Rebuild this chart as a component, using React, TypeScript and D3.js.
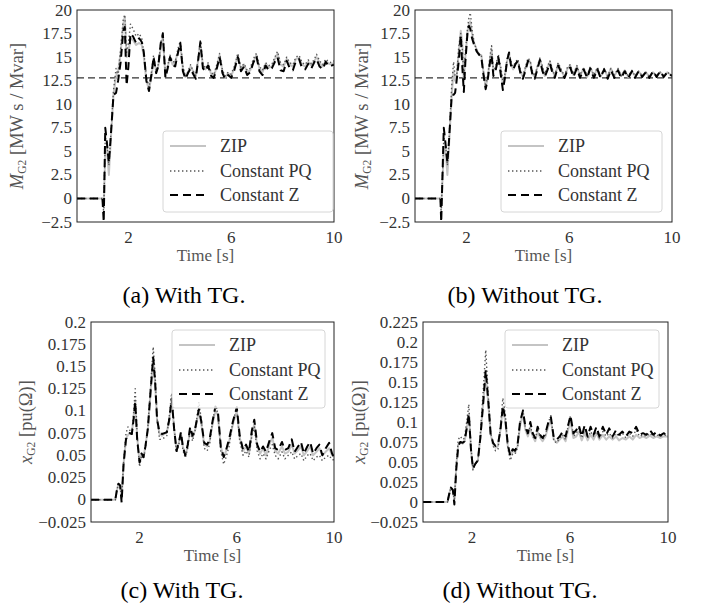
import * as d3 from "d3";

// ---- data ----
const xTicks = [2, 6, 10];

const mTicks = [-2.5, 0, 2.5, 5, 7.5, 10, 12.5, 15, 17.5, 20];
const mTickLabels = ["−2.5", "0", "2.5", "5", "7.5", "10", "12.5", "15", "17.5", "20"];
const cTicks = [-0.025, 0, 0.025, 0.05, 0.075, 0.1, 0.125, 0.15, 0.175, 0.2];
const cTickLabels = ["−0.025", "0", "0.025", "0.05", "0.075", "0.1", "0.125", "0.15", "0.175", "0.2"];
const dTicks = [-0.025, 0, 0.025, 0.05, 0.075, 0.1, 0.125, 0.15, 0.175, 0.2, 0.225];
const dTickLabels = ["−0.025", "0", "0.025", "0.05", "0.075", "0.1", "0.125", "0.15", "0.175", "0.2", "0.225"];

const mRef = 12.8; // steady-state inertia (dashed reference)

// (a) M_G2, with TG
const tA = [0, 0.99, 1.04, 1.1, 1.16, 1.24, 1.3, 1.42, 1.52, 1.6, 1.7, 1.8, 1.86, 1.93, 2.0, 2.08, 2.18, 2.3, 2.42, 2.52, 2.6, 2.7, 2.8, 2.9, 2.98, 3.08, 3.16, 3.26, 3.34, 3.44, 3.52, 3.62, 3.72, 3.82, 3.94, 4.02, 4.12, 4.22, 4.32, 4.42, 4.52, 4.62, 4.72, 4.8, 4.9, 5.0, 5.1, 5.22, 5.32, 5.44, 5.55, 5.66, 5.76, 5.88, 6.0, 6.12, 6.26, 6.38, 6.5, 6.62, 6.74, 6.86, 6.98, 7.1, 7.22, 7.34, 7.46, 7.58, 7.7, 7.8, 7.92, 8.04, 8.16, 8.28, 8.4, 8.52, 8.64, 8.76, 8.88, 9.0, 9.12, 9.24, 9.32, 9.44, 9.56, 9.68, 9.8, 9.9, 10];
const zipA = [0, 0, -1, 5, 5.5, 2.5, 5.5, 11, 13, 13.5, 15.5, 18.5, 19.3, 15, 15.5, 17, 16.8, 16.3, 16.5, 16.3, 15, 12.5, 11.5, 13, 14.8, 13.5, 14, 16, 17.2, 13, 13.8, 15, 14.2, 14.5, 15.6, 16.3, 13.8, 12.9, 13.4, 14, 13.5, 12.9, 14.8, 16.5, 14, 13.7, 14.2, 13.2, 12.9, 14, 15.2, 13.5, 12.8, 13.3, 13, 13.8, 15.2, 13.7, 14.2, 13.4, 13.6, 14.5, 15.2, 13.8, 13.4, 14.3, 13.9, 14, 14.8, 15.4, 14.2, 14, 14.8, 14.2, 14, 14.8, 14.9, 14.2, 14, 14.5, 14.1, 14.6, 15, 14.4, 14, 14.6, 14.3, 14.2, 14.4];
const pqA = [0, 0, -1.5, 6.5, 6, 3.5, 6, 11.5, 13.8, 13, 16, 19, 19.5, 15.5, 16.5, 18.5, 18, 17.2, 17.5, 17, 15.5, 13, 11.8, 13.5, 15.2, 13.5, 14.2, 16.5, 17.6, 13.3, 14, 15.2, 14.5, 14.5, 16, 16.7, 14, 12.9, 13.5, 14.2, 13.5, 13, 15, 16.8, 14.2, 13.8, 14.4, 13.4, 13.1, 14.2, 15.4, 13.6, 13, 13.4, 13.2, 14, 15.4, 13.9, 14.3, 13.6, 13.8, 14.8, 15.4, 14, 13.6, 14.4, 14.1, 14.2, 15, 15.6, 14.4, 14.2, 15, 14.4, 14.2, 15, 15.2, 14.4, 14.2, 14.7, 14.3, 14.8, 15.3, 14.6, 14.2, 14.8, 14.5, 14.4, 14.6];
const zA = [0, 0, -2.5, 7.5, 6, 3.8, 6, 11, 11.2, 12.5, 14.5, 17.8, 18.2, 12, 14, 17.5, 17.2, 16.5, 17, 16.6, 15.5, 12.5, 11.4, 13.2, 15, 13.3, 14, 16.5, 17.5, 12.8, 13.7, 15, 14.2, 14, 15.6, 16.5, 13.5, 12.7, 13.3, 13.8, 13.2, 12.7, 14.8, 16.6, 13.8, 13.5, 14.1, 13, 12.8, 13.8, 15, 13.3, 12.7, 13.1, 12.8, 13.6, 15, 13.5, 14, 13.1, 13.4, 14.4, 15.1, 13.5, 13.1, 14.1, 13.6, 13.8, 14.5, 15, 13.6, 13.5, 14.6, 13.8, 13.6, 14.6, 14.8, 13.8, 13.7, 14.3, 13.8, 14.5, 14.8, 14, 13.7, 14.5, 14, 14.1, 14.2];

// (b) M_G2, without TG
const tB = [0, 0.99, 1.02, 1.12, 1.18, 1.26, 1.32, 1.43, 1.5, 1.56, 1.62, 1.7, 1.78, 1.84, 1.9, 1.96, 2.04, 2.1, 2.15, 2.22, 2.3, 2.4, 2.48, 2.58, 2.66, 2.75, 2.84, 2.92, 2.98, 3.05, 3.14, 3.24, 3.32, 3.42, 3.5, 3.58, 3.66, 3.74, 3.82, 3.92, 4.0, 4.1, 4.2, 4.3, 4.4, 4.48, 4.58, 4.66, 4.76, 4.86, 4.96, 5.05, 5.15, 5.25, 5.35, 5.44, 5.57, 5.7, 5.82, 5.94, 6.04, 6.16, 6.3, 6.42, 6.56, 6.7, 6.82, 6.96, 7.1, 7.22, 7.36, 7.5, 7.62, 7.76, 7.9, 8.02, 8.16, 8.3, 8.44, 8.56, 8.7, 8.84, 8.98, 9.12, 9.26, 9.4, 9.54, 9.68, 9.82, 10];
const zipB = [0, 0, -1, 5, 5.5, 2.5, 5.5, 11, 13.5, 12.5, 13, 15.5, 17.8, 16.5, 12.5, 15, 17.5, 18.5, 18.8, 17.5, 16.5, 15.8, 15.3, 15.2, 13.5, 11.8, 13, 14.8, 15.8, 13.5, 13.8, 15, 14, 12, 13, 14.5, 15.3, 14.2, 13.7, 14.3, 14.6, 13.5, 12.9, 13.8, 14.7, 14.5, 13.2, 12.9, 13.9, 14.8, 13.8, 13, 13.8, 14.5, 13.6, 12.9, 14.3, 13.5, 12.9, 13.8, 14.1, 13.1, 14, 13, 13.8, 12.9, 13.9, 13, 13.8, 12.9, 13.7, 12.9, 13.8, 13, 13.7, 13, 13.6, 12.9, 13.5, 13, 13.5, 13, 13.4, 12.9, 13.4, 13, 13.4, 13, 13.4, 13];
const pqB = [0, 0, -1.5, 6.5, 6, 3.5, 6, 12, 14.5, 13, 12.8, 16, 17.5, 16, 13, 15.5, 18, 19.2, 19.7, 18, 16.5, 15.8, 15.4, 15.2, 13.5, 11.9, 13.2, 15.2, 16.2, 13.5, 14, 15.3, 14.2, 12.5, 13.2, 14.8, 15.5, 14.5, 14, 14.5, 14.8, 13.6, 13, 14, 14.9, 14.6, 13.4, 13, 14, 14.9, 14, 13.2, 14, 14.6, 13.7, 13, 14.4, 13.6, 13, 14, 14.2, 13.2, 14.1, 13.1, 13.9, 13, 14, 13.1, 13.9, 13, 13.8, 13, 13.8, 13.1, 13.8, 13, 13.6, 13, 13.6, 13, 13.5, 13, 13.4, 13, 13.4, 13, 13.4, 13, 13.4, 13];
const zB = [0, 0, -2.5, 7.5, 6, 3.8, 6, 11, 11, 11.2, 12.5, 14.5, 17.3, 14, 11.3, 14.5, 17.5, 18.3, 18, 17, 16.3, 15.6, 15.3, 15, 13.2, 11.6, 12.8, 14.5, 15.2, 13, 13.6, 15, 13.5, 11.5, 12.8, 14.6, 15.5, 14, 13.7, 14.3, 14.6, 13.3, 12.7, 13.6, 14.6, 14.3, 13, 12.7, 13.7, 14.7, 13.5, 12.9, 13.6, 14.3, 13.3, 12.8, 14.1, 13.3, 12.8, 13.7, 13.9, 12.9, 13.8, 12.8, 13.7, 12.8, 13.8, 12.8, 13.7, 12.8, 13.7, 12.7, 13.6, 12.8, 13.6, 12.8, 13.5, 12.8, 13.5, 12.8, 13.5, 12.9, 13.4, 12.8, 13.5, 12.9, 13.5, 12.9, 13.4, 13];

// (c) x_G2, with TG
const tC = [0, 1.0, 1.06, 1.13, 1.2, 1.26, 1.34, 1.44, 1.52, 1.6, 1.68, 1.76, 1.82, 1.9, 2.0, 2.08, 2.16, 2.24, 2.34, 2.46, 2.56, 2.64, 2.72, 2.82, 2.92, 3.02, 3.12, 3.22, 3.32, 3.42, 3.52, 3.62, 3.7, 3.78, 3.88, 3.98, 4.08, 4.18, 4.3, 4.44, 4.54, 4.66, 4.78, 4.88, 5.0, 5.12, 5.22, 5.34, 5.46, 5.56, 5.68, 5.84, 6.0, 6.12, 6.26, 6.38, 6.5, 6.62, 6.72, 6.84, 6.96, 7.08, 7.2, 7.34, 7.46, 7.58, 7.7, 7.86, 7.98, 8.12, 8.26, 8.38, 8.52, 8.64, 8.76, 8.9, 9.02, 9.14, 9.28, 9.4, 9.52, 9.66, 9.8, 9.92, 10];
const zipC = [0, 0, 0.01, 0.018, 0.015, 0.002, 0.04, 0.068, 0.073, 0.075, 0.074, 0.095, 0.112, 0.07, 0.042, 0.052, 0.048, 0.06, 0.08, 0.125, 0.16, 0.13, 0.09, 0.074, 0.072, 0.074, 0.076, 0.09, 0.112, 0.08, 0.055, 0.065, 0.075, 0.06, 0.05, 0.06, 0.08, 0.07, 0.08, 0.1, 0.085, 0.062, 0.06, 0.066, 0.085, 0.1, 0.095, 0.06, 0.048, 0.055, 0.065, 0.085, 0.1, 0.07, 0.055, 0.06, 0.052, 0.075, 0.085, 0.06, 0.052, 0.058, 0.05, 0.062, 0.07, 0.055, 0.052, 0.06, 0.052, 0.054, 0.062, 0.052, 0.056, 0.06, 0.05, 0.055, 0.06, 0.05, 0.054, 0.058, 0.05, 0.054, 0.058, 0.05, 0.05];
const pqC = [0, 0, 0.01, 0.018, 0.015, 0.001, 0.042, 0.075, 0.082, 0.078, 0.075, 0.1, 0.125, 0.072, 0.037, 0.05, 0.046, 0.058, 0.082, 0.13, 0.172, 0.14, 0.092, 0.068, 0.068, 0.07, 0.072, 0.094, 0.12, 0.082, 0.053, 0.063, 0.074, 0.056, 0.047, 0.058, 0.078, 0.066, 0.08, 0.11, 0.09, 0.058, 0.055, 0.062, 0.088, 0.104, 0.098, 0.055, 0.04, 0.048, 0.06, 0.088, 0.104, 0.066, 0.05, 0.055, 0.048, 0.072, 0.082, 0.055, 0.046, 0.052, 0.046, 0.056, 0.062, 0.05, 0.046, 0.054, 0.046, 0.05, 0.054, 0.046, 0.05, 0.052, 0.044, 0.05, 0.052, 0.044, 0.048, 0.05, 0.044, 0.048, 0.05, 0.045, 0.045];
const zC = [0, 0, 0.01, 0.018, 0.016, -0.003, 0.04, 0.068, 0.073, 0.075, 0.074, 0.092, 0.11, 0.068, 0.042, 0.052, 0.048, 0.06, 0.08, 0.125, 0.16, 0.132, 0.09, 0.076, 0.074, 0.075, 0.076, 0.09, 0.114, 0.08, 0.055, 0.065, 0.076, 0.06, 0.05, 0.062, 0.082, 0.072, 0.082, 0.102, 0.088, 0.064, 0.062, 0.068, 0.088, 0.105, 0.1, 0.06, 0.048, 0.056, 0.068, 0.088, 0.104, 0.072, 0.056, 0.062, 0.054, 0.078, 0.09, 0.062, 0.054, 0.06, 0.054, 0.066, 0.075, 0.058, 0.056, 0.065, 0.056, 0.058, 0.068, 0.054, 0.06, 0.065, 0.052, 0.06, 0.065, 0.052, 0.058, 0.062, 0.05, 0.058, 0.064, 0.052, 0.048];

// (d) x_G2, without TG
const tD = [0, 1.0, 1.07, 1.14, 1.22, 1.28, 1.36, 1.44, 1.52, 1.62, 1.7, 1.8, 1.87, 1.96, 2.04, 2.14, 2.24, 2.34, 2.46, 2.56, 2.66, 2.76, 2.86, 2.96, 3.06, 3.16, 3.26, 3.36, 3.46, 3.56, 3.66, 3.76, 3.86, 3.96, 4.08, 4.18, 4.28, 4.38, 4.48, 4.58, 4.68, 4.78, 4.88, 5.0, 5.12, 5.22, 5.34, 5.46, 5.58, 5.7, 5.82, 5.94, 6.02, 6.14, 6.26, 6.36, 6.48, 6.6, 6.72, 6.84, 6.96, 7.08, 7.2, 7.34, 7.48, 7.6, 7.74, 7.88, 8.0, 8.14, 8.28, 8.42, 8.56, 8.7, 8.84, 8.98, 9.12, 9.26, 9.4, 9.54, 9.68, 9.82, 10];
const zipD = [0, 0, 0.01, 0.018, 0.014, 0.002, 0.045, 0.072, 0.075, 0.073, 0.076, 0.095, 0.11, 0.065, 0.042, 0.048, 0.052, 0.08, 0.125, 0.16, 0.125, 0.085, 0.072, 0.068, 0.07, 0.09, 0.118, 0.1, 0.07, 0.058, 0.064, 0.062, 0.07, 0.095, 0.11, 0.09, 0.082, 0.092, 0.082, 0.076, 0.088, 0.08, 0.076, 0.082, 0.095, 0.102, 0.078, 0.074, 0.078, 0.082, 0.076, 0.092, 0.1, 0.08, 0.082, 0.088, 0.077, 0.086, 0.077, 0.084, 0.078, 0.086, 0.078, 0.084, 0.078, 0.082, 0.078, 0.082, 0.077, 0.08, 0.078, 0.082, 0.078, 0.084, 0.08, 0.082, 0.08, 0.083, 0.08, 0.082, 0.08, 0.082, 0.082];
const pqD = [0, 0, 0.01, 0.018, 0.015, 0.001, 0.048, 0.078, 0.082, 0.078, 0.08, 0.105, 0.122, 0.068, 0.04, 0.048, 0.05, 0.085, 0.14, 0.19, 0.135, 0.088, 0.07, 0.064, 0.066, 0.095, 0.13, 0.11, 0.068, 0.052, 0.06, 0.06, 0.068, 0.1, 0.115, 0.092, 0.084, 0.096, 0.082, 0.078, 0.092, 0.082, 0.078, 0.084, 0.1, 0.108, 0.076, 0.074, 0.08, 0.084, 0.078, 0.098, 0.108, 0.082, 0.086, 0.092, 0.08, 0.09, 0.08, 0.088, 0.082, 0.088, 0.08, 0.088, 0.082, 0.086, 0.08, 0.086, 0.082, 0.086, 0.08, 0.086, 0.082, 0.09, 0.082, 0.084, 0.082, 0.086, 0.082, 0.084, 0.082, 0.084, 0.083];
const zD = [0, 0, 0.01, 0.018, 0.015, -0.003, 0.042, 0.07, 0.075, 0.074, 0.076, 0.095, 0.11, 0.065, 0.042, 0.048, 0.052, 0.08, 0.125, 0.165, 0.128, 0.085, 0.074, 0.07, 0.072, 0.09, 0.12, 0.104, 0.072, 0.058, 0.066, 0.064, 0.072, 0.1, 0.114, 0.094, 0.086, 0.1, 0.086, 0.08, 0.094, 0.084, 0.08, 0.086, 0.1, 0.106, 0.08, 0.078, 0.082, 0.088, 0.082, 0.098, 0.108, 0.086, 0.09, 0.096, 0.082, 0.096, 0.082, 0.094, 0.084, 0.094, 0.082, 0.094, 0.084, 0.092, 0.082, 0.09, 0.084, 0.088, 0.082, 0.088, 0.086, 0.094, 0.084, 0.086, 0.084, 0.09, 0.084, 0.088, 0.083, 0.086, 0.083];

const legendNames = ["ZIP", "Constant PQ", "Constant Z"];

// ---- styles ----
const FONT = "Liberation Serif, DejaVu Serif, serif";
const seriesStyle = [
  { stroke: "#c4c4c4", width: 2, dash: undefined },
  { stroke: "#555", width: 1.4, dash: "1.4,2.6" },
  { stroke: "#000", width: 2, dash: "8,5" },
];

type PanelCfg = {
  id: string;
  left: number; right: number; top: number; bottom: number;
  yDomain: [number, number];
  yTicks: number[]; yTickLabels: string[];
  t: number[]; series: number[][];
  ref?: number;
  legend: { x: number; y: number; w: number; h: number };
  ySym: string; yUnit: string; yLabelX: number;
  caption: string; captionX: number; captionY: number;
};

const panels: PanelCfg[] = [
  {
    id: "a", left: 77, right: 334, top: 10, bottom: 222, yDomain: [-2.5, 20],
    yTicks: mTicks, yTickLabels: mTickLabels, t: tA, series: [zipA, pqA, zA], ref: mRef,
    legend: { x: 163, y: 131, w: 170, h: 81 }, ySym: "M", yUnit: " [MW s / Mvar]", yLabelX: 23,
    caption: "(a) With TG.", captionX: 184, captionY: 303,
  },
  {
    id: "b", left: 415, right: 672, top: 10, bottom: 222, yDomain: [-2.5, 20],
    yTicks: mTicks, yTickLabels: mTickLabels, t: tB, series: [zipB, pqB, zB], ref: mRef,
    legend: { x: 501, y: 131, w: 161, h: 81 }, ySym: "M", yUnit: " [MW s / Mvar]", yLabelX: 368,
    caption: "(b) Without TG.", captionX: 525, captionY: 303,
  },
  {
    id: "c", left: 91, right: 334, top: 322, bottom: 522, yDomain: [-0.025, 0.2],
    yTicks: cTicks, yTickLabels: cTickLabels, t: tC, series: [zipC, pqC, zC],
    legend: { x: 172, y: 330, w: 153, h: 78 }, ySym: "x", yUnit: " [pu(Ω)]", yLabelX: 32,
    caption: "(c) With TG.", captionX: 182, captionY: 598,
  },
  {
    id: "d", left: 423, right: 668, top: 322, bottom: 522, yDomain: [-0.025, 0.225],
    yTicks: dTicks, yTickLabels: dTickLabels, t: tD, series: [zipD, pqD, zD],
    legend: { x: 505, y: 330, w: 154, h: 78 }, ySym: "x", yUnit: " [pu(Ω)]", yLabelX: 365,
    caption: "(d) Without TG.", captionX: 520, captionY: 598,
  },
];

function Panel({ p }: { p: PanelCfg }) {
  const x = d3.scaleLinear().domain([0, 10]).range([p.left, p.right]);
  const y = d3.scaleLinear().domain(p.yDomain).range([p.bottom, p.top]);
  const line = d3
    .line<number>()
    .x((_, i) => x(p.t[i]))
    .y((d) => y(d));
  const midY = (p.top + p.bottom) / 2;
  const lg = p.legend;
  const rows = [15, 40, 64];
  const ff = { fontFamily: FONT };

  return (
    <g>
      <defs>
        <clipPath id={`clip-${p.id}`}>
          <rect x={p.left} y={p.top - 1} width={p.right - p.left} height={p.bottom - p.top + 2} />
        </clipPath>
      </defs>

      <g clipPath={`url(#clip-${p.id})`}>
        {p.ref !== undefined && (
          <line
            x1={p.left} x2={p.right} y1={y(p.ref)} y2={y(p.ref)}
            stroke="#333" strokeWidth={1.3} strokeDasharray="7,4"
          />
        )}
        {p.series.map((s, i) => (
          <path
            key={i}
            d={line(s) ?? ""}
            fill="none"
            stroke={seriesStyle[i].stroke}
            strokeWidth={seriesStyle[i].width}
            strokeDasharray={seriesStyle[i].dash}
            strokeLinejoin="round"
          />
        ))}
      </g>

      {/* spines */}
      <rect
        x={p.left} y={p.top} width={p.right - p.left} height={p.bottom - p.top}
        fill="none" stroke="#222" strokeWidth={1}
      />

      {/* y ticks */}
      {p.yTicks.map((v, i) => (
        <text
          key={v} style={ff}
          x={p.left - 5} y={y(v)} dy="0.33em" textAnchor="end"
          fontSize={17} fill="#333"
        >
          {p.yTickLabels[i]}
        </text>
      ))}

      {/* x ticks */}
      {xTicks.map((v) => (
        <text key={v} style={ff} x={x(v)} y={p.bottom + 21} textAnchor="middle" fontSize={17} fill="#333">
          {v}
        </text>
      ))}

      <text style={ff} x={(p.left + p.right) / 2} y={p.bottom + 39} textAnchor="middle" fontSize={17} fill="#555">
        Time [s]
      </text>

      <text
        style={ff}
        transform={`translate(${p.yLabelX},${midY}) rotate(-90)`}
        textAnchor="middle" fontSize={18.5} fill="#555"
      >
        <tspan fontStyle="italic">{p.ySym}</tspan>
        <tspan fontSize={11.5} dy={3}>G2</tspan>
        <tspan dy={-3}>{p.yUnit}</tspan>
      </text>

      {/* legend */}
      <rect
        x={lg.x} y={lg.y} width={lg.w} height={lg.h} rx={3}
        fill="#fff" fillOpacity={0.8} stroke="#d6d6d6" strokeWidth={1}
      />
      {legendNames.map((name, i) => (
        <g key={name}>
          <line
            x1={lg.x + 7} x2={lg.x + 43} y1={lg.y + rows[i]} y2={lg.y + rows[i]}
            stroke={seriesStyle[i].stroke} strokeWidth={seriesStyle[i].width}
            strokeDasharray={seriesStyle[i].dash}
          />
          <text style={ff} x={lg.x + 57} y={lg.y + rows[i]} dy="0.35em" fontSize={18} fill="#333">
            {name}
          </text>
        </g>
      ))}

      <text style={ff} x={p.captionX} y={p.captionY} textAnchor="middle" fontSize={24} fill="#000">
        {p.caption}
      </text>
    </g>
  );
}

export default function App() {
  return (
    <svg
      width={705}
      height={607}
      viewBox="0 0 705 607"
      style={{ position: "absolute", left: 0, top: 0, background: "#fff" }}
    >
      <rect width={705} height={607} fill="#fff" />
      {panels.map((p) => (
        <Panel key={p.id} p={p} />
      ))}
    </svg>
  );
}
